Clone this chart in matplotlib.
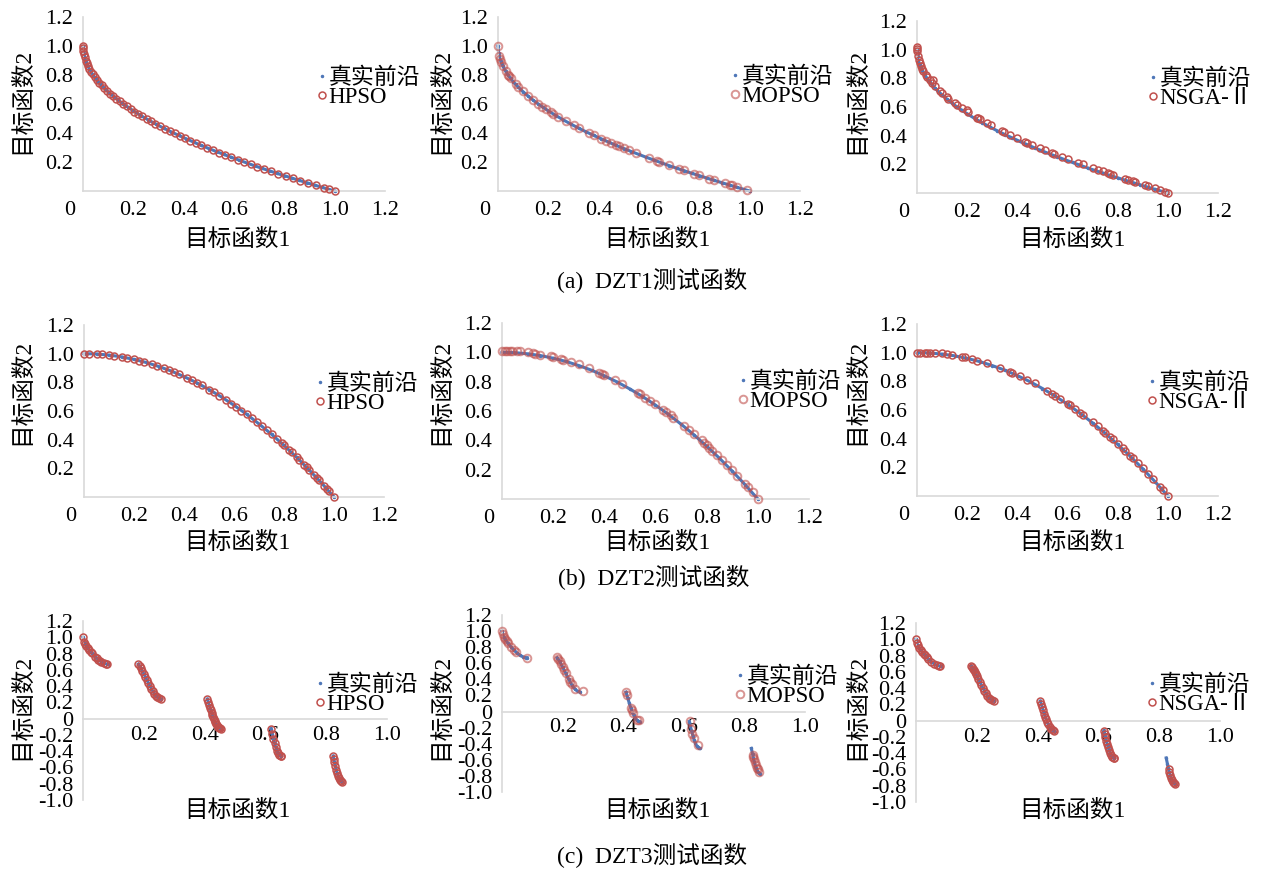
import numpy as np
import matplotlib
matplotlib.use('Agg')
import matplotlib.pyplot as plt
from matplotlib.transforms import ScaledTranslation

plt.rcParams['font.family'] = ['Liberation Serif', 'Noto Sans CJK SC']
plt.rcParams['axes.unicode_minus'] = False

nan = np.nan

# ---- true fronts ----
zdt1_x = [0.0, 0.002, 0.005, 0.01, 0.015, 0.02, 0.03, 0.04, 0.05, 0.06, 0.07, 0.08, 0.10, 0.12, 0.14,
          0.16, 0.18, 0.20, 0.23, 0.26, 0.29, 0.32, 0.35, 0.38, 0.41, 0.44, 0.47, 0.50, 0.53, 0.56,
          0.59, 0.62, 0.65, 0.68, 0.71, 0.74, 0.77, 0.80, 0.83, 0.86, 0.89, 0.92, 0.95, 0.98, 1.0]
zdt1_y = [1.0, 0.955, 0.929, 0.9, 0.878, 0.859, 0.827, 0.8, 0.776, 0.755, 0.735, 0.717, 0.684, 0.654, 0.626,
          0.6, 0.576, 0.553, 0.520, 0.490, 0.461, 0.434, 0.408, 0.384, 0.360, 0.337, 0.314, 0.293, 0.272, 0.252,
          0.232, 0.213, 0.194, 0.175, 0.157, 0.140, 0.122, 0.106, 0.089, 0.073, 0.057, 0.041, 0.025, 0.010, 0.0]

zdt2_x = [0.0, 0.05, 0.1, 0.15, 0.2, 0.25, 0.3, 0.35, 0.4, 0.45, 0.5, 0.55, 0.6, 0.65, 0.7, 0.75, 0.8, 0.85,
          0.9, 0.95, 1.0]
zdt2_y = [1.0, 0.998, 0.99, 0.978, 0.96, 0.938, 0.91, 0.878, 0.84, 0.798, 0.75, 0.698, 0.64, 0.578, 0.51,
          0.438, 0.36, 0.278, 0.19, 0.098, 0.0]

zdt3_x = [0.0, 0.005, 0.01, 0.02, 0.03, 0.04, 0.05, 0.06, 0.07, 0.08, 0.083, nan,
          0.182, 0.19, 0.20, 0.21, 0.22, 0.23, 0.24, 0.25, 0.258, nan,
          0.409, 0.415, 0.42, 0.425, 0.43, 0.435, 0.44, 0.445, 0.45, 0.454, nan,
          0.618, 0.622, 0.626, 0.63, 0.634, 0.638, 0.642, 0.646, 0.65, 0.652, nan,
          0.823, 0.827, 0.830, 0.833, 0.836, 0.839, 0.842, 0.845, 0.848, 0.852]
zdt3_y = [1.0, 0.928, 0.897, 0.847, 0.803, 0.762, 0.726, 0.698, 0.679, 0.670, 0.670, nan,
          0.670, 0.623, 0.553, 0.477, 0.402, 0.334, 0.282, 0.25, 0.242, nan,
          0.242, 0.168, 0.105, 0.047, -0.004, -0.047, -0.082, -0.107, -0.121, -0.124, nan,
          -0.124, -0.185, -0.247, -0.303, -0.352, -0.392, -0.423, -0.445, -0.456, -0.458, nan,
          -0.458, -0.530, -0.582, -0.630, -0.671, -0.705, -0.733, -0.754, -0.767, -0.773]

# ---- DZT1 algorithm results ----
hpso1_x = [0.0, 0.0, 0.001, 0.003, 0.006, 0.01, 0.014, 0.019, 0.025, 0.031, 0.038, 0.046, 0.055, 0.064, 0.074,
           0.085, 0.096, 0.108, 0.12, 0.133, 0.146, 0.16, 0.174, 0.189, 0.204, 0.22, 0.236, 0.253, 0.27, 0.288,
           0.306, 0.325, 0.344, 0.364, 0.384, 0.405, 0.426, 0.448, 0.47, 0.493, 0.516, 0.54, 0.564, 0.589, 0.614,
           0.64, 0.666, 0.693, 0.72, 0.748, 0.776, 0.805, 0.834, 0.864, 0.894, 0.925, 0.956, 0.978, 1.0]
hpso1_y = [1.0, 0.985, 0.968, 0.945, 0.923, 0.9, 0.882, 0.862, 0.842, 0.824, 0.805, 0.786, 0.766, 0.747, 0.728,
           0.708, 0.690, 0.671, 0.654, 0.635, 0.618, 0.600, 0.583, 0.565, 0.548, 0.531, 0.514, 0.497, 0.480, 0.463,
           0.447, 0.430, 0.413, 0.397, 0.380, 0.364, 0.347, 0.331, 0.314, 0.298, 0.282, 0.265, 0.249, 0.233, 0.216,
           0.200, 0.184, 0.168, 0.151, 0.135, 0.119, 0.103, 0.087, 0.070, 0.054, 0.038, 0.022, 0.011, 0.0]

mopso1_x = [0.0, 0.005, 0.008, 0.012, 0.02, 0.03, 0.04, 0.045, 0.05, 0.07, 0.08, 0.10, 0.12, 0.14, 0.16, 0.175,
            0.19, 0.21, 0.22, 0.24, 0.27, 0.30, 0.32, 0.36, 0.38, 0.41, 0.43, 0.45, 0.47, 0.48, 0.50, 0.52, 0.55,
            0.60, 0.63, 0.64, 0.68, 0.72, 0.74, 0.78, 0.80, 0.84, 0.86, 0.90, 0.92, 0.93, 0.95, 0.99]
mopso1_y = [1.0, 0.93, 0.91, 0.89, 0.86, 0.83, 0.80, 0.79, 0.78, 0.74, 0.72, 0.69, 0.655, 0.627, 0.60, 0.582,
            0.565, 0.543, 0.532, 0.512, 0.482, 0.455, 0.437, 0.402, 0.385, 0.362, 0.346, 0.33, 0.317, 0.31, 0.295,
            0.28, 0.26, 0.227, 0.208, 0.2, 0.177, 0.153, 0.142, 0.118, 0.107, 0.085, 0.075, 0.053, 0.044, 0.038,
            0.027, 0.006]

nsga1_x = [0.0, 0.0, 0.0, 0.003, 0.006, 0.01, 0.015, 0.02, 0.025, 0.035, 0.04, 0.05, 0.06, 0.065, 0.07, 0.09,
           0.1, 0.12, 0.125, 0.15, 0.16, 0.18, 0.2, 0.205, 0.24, 0.245, 0.25, 0.28, 0.295, 0.34, 0.345, 0.37, 0.4,
           0.43, 0.44, 0.46, 0.49, 0.51, 0.54, 0.545, 0.58, 0.6, 0.64, 0.66, 0.7, 0.72, 0.74, 0.76, 0.77, 0.78,
           0.83, 0.84, 0.86, 0.87, 0.91, 0.92, 0.95, 0.97, 0.99, 1.0]
nsga1_y = [1.02, 1.005, 0.99, 0.955, 0.93, 0.91, 0.888, 0.868, 0.852, 0.825, 0.81, 0.788, 0.77, 0.785, 0.748,
           0.712, 0.698, 0.668, 0.655, 0.628, 0.615, 0.592, 0.578, 0.565, 0.525, 0.52, 0.515, 0.485, 0.472, 0.432,
           0.425, 0.405, 0.382, 0.358, 0.352, 0.335, 0.312, 0.298, 0.278, 0.272, 0.25, 0.235, 0.212, 0.2, 0.175,
           0.163, 0.152, 0.14, 0.135, 0.128, 0.1, 0.094, 0.083, 0.076, 0.055, 0.05, 0.033, 0.022, 0.01, 0.0]

# ---- DZT2 algorithm results ----
hpso2_x = [0.0, 0.02, 0.05, 0.07, 0.1, 0.12, 0.15, 0.17, 0.2, 0.22, 0.24, 0.27, 0.29, 0.32, 0.34, 0.36, 0.38,
           0.41, 0.43, 0.45, 0.47, 0.5, 0.52, 0.54, 0.57, 0.59, 0.61, 0.63, 0.65, 0.67, 0.69, 0.71, 0.73, 0.75,
           0.77, 0.79, 0.8, 0.82, 0.83, 0.85, 0.86, 0.88, 0.89, 0.9, 0.92, 0.93, 0.94, 0.96, 0.97, 0.98, 1.0]
hpso2_y = [1.0, 1.0, 0.998, 0.995, 0.99, 0.986, 0.978, 0.971, 0.96, 0.952, 0.942, 0.927, 0.916, 0.898, 0.884,
           0.870, 0.856, 0.832, 0.815, 0.798, 0.779, 0.75, 0.730, 0.708, 0.675, 0.652, 0.628, 0.603, 0.578, 0.551,
           0.524, 0.496, 0.467, 0.438, 0.407, 0.376, 0.36, 0.328, 0.311, 0.278, 0.260, 0.226, 0.208, 0.19, 0.154,
           0.135, 0.116, 0.078, 0.059, 0.040, 0.0]

mopso2_x = [0.0, 0.01, 0.02, 0.03, 0.04, 0.06, 0.07, 0.1, 0.12, 0.13, 0.15, 0.19, 0.2, 0.23, 0.24, 0.27, 0.3,
            0.34, 0.38, 0.39, 0.4, 0.44, 0.47, 0.53, 0.54, 0.56, 0.58, 0.6, 0.63, 0.64, 0.66, 0.67, 0.71, 0.73,
            0.75, 0.78, 0.79, 0.8, 0.81, 0.82, 0.84, 0.86, 0.88, 0.9, 0.92, 0.95, 0.96, 0.98, 1.0]
mopso2_y = [1.01, 1.01, 1.01, 1.01, 1.01, 1.01, 1.01, 1.0, 0.995, 0.99, 0.985, 0.975, 0.968, 0.955, 0.95, 0.935,
            0.918, 0.89, 0.862, 0.855, 0.845, 0.81, 0.785, 0.725, 0.715, 0.69, 0.668, 0.645, 0.61, 0.595, 0.57,
            0.555, 0.5, 0.47, 0.44, 0.4, 0.385, 0.37, 0.35, 0.33, 0.3, 0.265, 0.23, 0.195, 0.16, 0.1, 0.08, 0.045,
            0.0]

nsga2_x = [0.0, 0.01, 0.03, 0.04, 0.05, 0.07, 0.1, 0.12, 0.14, 0.18, 0.19, 0.22, 0.24, 0.28, 0.33, 0.37, 0.38,
           0.41, 0.44, 0.47, 0.52, 0.54, 0.55, 0.57, 0.6, 0.61, 0.63, 0.65, 0.66, 0.7, 0.72, 0.74, 0.75, 0.77,
           0.78, 0.8, 0.82, 0.83, 0.85, 0.86, 0.88, 0.9, 0.92, 0.94, 0.97, 0.98, 1.0]
nsga2_y = [1.0, 1.0, 1.0, 1.0, 1.0, 1.0, 0.995, 0.988, 0.985, 0.972, 0.968, 0.955, 0.945, 0.925, 0.895, 0.865,
           0.86, 0.835, 0.81, 0.785, 0.735, 0.712, 0.7, 0.68, 0.645, 0.632, 0.607, 0.582, 0.568, 0.515, 0.485,
           0.455, 0.44, 0.41, 0.395, 0.365, 0.333, 0.315, 0.28, 0.262, 0.228, 0.192, 0.155, 0.118, 0.06, 0.042, 0.0]

# ---- DZT3 algorithm results ----
hpso3_x = [0.0, 0.003, 0.006, 0.01, 0.015, 0.02, 0.025, 0.03, 0.04, 0.045, 0.05, 0.055, 0.06, 0.07, 0.075, 0.08,
           0.182, 0.186, 0.19, 0.195, 0.2, 0.205, 0.21, 0.215, 0.22, 0.225, 0.23, 0.235, 0.24, 0.245, 0.25, 0.257,
           0.409, 0.412, 0.415, 0.418, 0.42, 0.423, 0.425, 0.428, 0.43, 0.433, 0.435, 0.438, 0.44, 0.443, 0.445,
           0.448, 0.45, 0.453,
           0.619, 0.622, 0.626, 0.63, 0.634, 0.638, 0.642, 0.646, 0.65, 0.652,
           0.823, 0.825, 0.827, 0.83, 0.833, 0.836, 0.839, 0.842, 0.845, 0.848, 0.851]
hpso3_y = [1.0, 0.945, 0.921, 0.897, 0.871, 0.847, 0.824, 0.803, 0.762, 0.743, 0.726, 0.711, 0.698, 0.679, 0.673,
           0.67,
           0.67, 0.648, 0.623, 0.589, 0.553, 0.515, 0.477, 0.439, 0.402, 0.367, 0.334, 0.306, 0.282, 0.263, 0.25,
           0.243,
           0.242, 0.206, 0.168, 0.13, 0.105, 0.07, 0.047, 0.016, -0.004, -0.031, -0.047, -0.069, -0.082, -0.098,
           -0.107, -0.116, -0.121, -0.124,
           -0.124, -0.185, -0.247, -0.303, -0.352, -0.392, -0.423, -0.445, -0.456, -0.458,
           -0.458, -0.491, -0.53, -0.582, -0.63, -0.671, -0.705, -0.733, -0.754, -0.767, -0.773]

mopso3_x = [0.0, 0.002, 0.005, 0.01, 0.015, 0.02, 0.03, 0.04, 0.045, 0.082,
            0.183, 0.186, 0.19, 0.195, 0.2, 0.205, 0.21, 0.22, 0.225, 0.23, 0.24, 0.266,
            0.41, 0.412, 0.425, 0.428, 0.432, 0.445, 0.452,
            0.619, 0.624, 0.628, 0.633, 0.648,
            0.827, 0.829, 0.831, 0.834, 0.837, 0.841, 0.845, 0.849]
mopso3_y = [1.0, 0.965, 0.93, 0.9, 0.872, 0.85, 0.805, 0.765, 0.745, 0.668,
            0.672, 0.65, 0.625, 0.59, 0.555, 0.517, 0.48, 0.405, 0.37, 0.337, 0.285, 0.255,
            0.245, 0.2, 0.05, 0.02, -0.02, -0.1, -0.1,
            -0.12, -0.22, -0.28, -0.33, -0.41,
            -0.54, -0.56, -0.59, -0.63, -0.67, -0.7, -0.72, -0.75]

nsga3_x = [0.0, 0.002, 0.005, 0.01, 0.015, 0.02, 0.025, 0.03, 0.035, 0.04, 0.05, 0.06, 0.07, 0.075, 0.08,
           0.182, 0.185, 0.188, 0.19, 0.193, 0.197, 0.2, 0.205, 0.21, 0.215, 0.22, 0.225, 0.23, 0.235, 0.24, 0.245,
           0.25, 0.256,
           0.409, 0.412, 0.415, 0.418, 0.422, 0.425, 0.428, 0.431, 0.435, 0.44, 0.445, 0.45, 0.453,
           0.619, 0.621, 0.623, 0.626, 0.629, 0.632, 0.635, 0.638, 0.642, 0.646, 0.65, 0.652,
           0.831, 0.833, 0.836, 0.839, 0.842, 0.845, 0.848, 0.851]
nsga3_y = [1.0, 0.96, 0.93, 0.897, 0.871, 0.847, 0.824, 0.803, 0.782, 0.762, 0.726, 0.698, 0.679, 0.673, 0.67,
           0.67, 0.654, 0.636, 0.623, 0.603, 0.575, 0.553, 0.515, 0.477, 0.439, 0.402, 0.367, 0.334, 0.306, 0.282,
           0.263, 0.25, 0.244,
           0.242, 0.206, 0.168, 0.13, 0.082, 0.047, 0.016, -0.012, -0.047, -0.082, -0.107, -0.121, -0.124,
           -0.124, -0.17, -0.2, -0.247, -0.29, -0.328, -0.362, -0.392, -0.423, -0.445, -0.456, -0.458,
           -0.6, -0.63, -0.671, -0.705, -0.733, -0.754, -0.767, -0.773]

captions = ['(a)  DZT1测试函数', '(b)  DZT2测试函数', '(c)  DZT3测试函数']
fronts = [(zdt1_x, zdt1_y), (zdt2_x, zdt2_y), (zdt3_x, zdt3_y)]
algos = [
    [('HPSO', hpso1_x, hpso1_y), ('MOPSO', mopso1_x, mopso1_y), ('NSGA-Ⅱ', nsga1_x, nsga1_y)],
    [('HPSO', hpso2_x, hpso2_y), ('MOPSO', mopso2_x, mopso2_y), ('NSGA-Ⅱ', nsga2_x, nsga2_y)],
    [('HPSO', hpso3_x, hpso3_y), ('MOPSO', mopso3_x, mopso3_y), ('NSGA-Ⅱ', nsga3_x, nsga3_y)],
]

# ---- layout (pixels) ----
W, H = 1261, 869
DPI = 100
boxes = [
    [(83, 385, 17, 191), (498, 800, 17, 191), (917, 1218, 21, 193)],
    [(84, 384, 325, 497), (502, 809, 323, 499), (917, 1218, 324, 496)],
    [(83, 387, 621, 800), (502, 805, 615, 792), (916, 1220, 623, 802)],
]
leg_pos = [
    [(318, 88), (731, 87), (1149, 89)],
    [(316, 394), (739, 392), (1148, 393)],
    [(316, 695), (736, 687), (1148, 695)],
]
xlab_x = [237, 657, 1072]
xlab_y = [240, 543, 811]
ylab_x = [22, 441, 857]
ylab_y = [101, 392, 707]
cap_pos = [(652, 280), (654, 577), (652, 855)]

blue = '#4F77B8'
red = '#C0504D'
grey = '#D9D9D9'
fs = 16
cjk_fs = 17

fig = plt.figure(figsize=(W / DPI, H / DPI), dpi=DPI)


def fx(x):
    return x / W


def fy(y):
    return 1 - y / H


for r in range(3):
    for c in range(3):
        x0, x1, y0, y1 = boxes[r][c]
        ax = fig.add_axes([fx(x0), fy(y1), (x1 - x0) / W, (y1 - y0) / H])
        tx, ty = fronts[r]
        name, ax_x, ax_y = algos[r][c]

        ax.plot(tx, ty, '-', color=blue, lw=2.2, zorder=2, clip_on=False)
        h1, = ax.plot(tx, ty, '.', color=blue, ms=3, zorder=2, clip_on=False)
        if name == 'MOPSO':
            h2, = ax.plot(ax_x, ax_y, 'o', mfc='none', mec=red, mew=1.4, ms=5.5, alpha=0.6, zorder=3,
                          clip_on=False)
        else:
            h2, = ax.plot(ax_x, ax_y, 'o', mfc='none', mec=red, mew=1.1, ms=5, zorder=3, clip_on=False)

        for s in ['top', 'right']:
            ax.spines[s].set_visible(False)
        for s in ['left', 'bottom']:
            ax.spines[s].set_color(grey)
            ax.spines[s].set_linewidth(1.2)
        ax.tick_params(length=0, labelsize=fs, pad=7)

        if r < 2:
            ax.set_xlim(0, 1.2)
            ax.set_ylim(0, 1.2)
            xt = [0, 0.2, 0.4, 0.6, 0.8, 1.0, 1.2]
            ax.set_xticks(xt)
            ax.set_xticklabels(['0'] + ['%.1f' % v for v in xt[1:]])
            yt = [0.2, 0.4, 0.6, 0.8, 1.0, 1.2]
            ax.set_yticks(yt)
            ax.set_yticklabels(['%.1f' % v for v in yt])
            lab = ax.xaxis.get_major_ticks()[0].label1
            lab.set_transform(lab.get_transform() + ScaledTranslation(-13 / DPI, 0, fig.dpi_scale_trans))
        else:
            ax.set_xlim(0, 1.0)
            ax.set_ylim(-1.0, 1.2)
            xt = [0.2, 0.4, 0.6, 0.8, 1.0]
            ax.set_xticks(xt)
            ax.set_xticklabels(['%.1f' % v for v in xt])
            yt = [-1.0, -0.8, -0.6, -0.4, -0.2, 0, 0.2, 0.4, 0.6, 0.8, 1.0, 1.2]
            ax.set_yticks(yt)
            ax.set_yticklabels(['0' if v == 0 else '%.1f' % v for v in yt])
            ax.spines['bottom'].set_position(('data', 0))
            ax.tick_params(axis='x', pad=5)

        fig.legend([h1, h2], ['真实前沿', name], loc='center left',
                   bbox_to_anchor=(fx(leg_pos[r][c][0]), fy(leg_pos[r][c][1])),
                   frameon=False, fontsize=16.5, handlelength=0.35, handletextpad=0.1,
                   labelspacing=-0.08, borderpad=0, borderaxespad=0, markerscale=1.0)

        fig.text(fx(xlab_x[c]), fy(xlab_y[r]), '目标函数1', fontsize=cjk_fs, ha='center', va='center')
        fig.text(fx(ylab_x[c]), fy(ylab_y[r]), '目标函数2', fontsize=cjk_fs, ha='center', va='center',
                 rotation=90)

    fig.text(fx(cap_pos[r][0]), fy(cap_pos[r][1]), captions[r], fontsize=17, ha='center', va='center')

fig.savefig('out.png', dpi=DPI)
